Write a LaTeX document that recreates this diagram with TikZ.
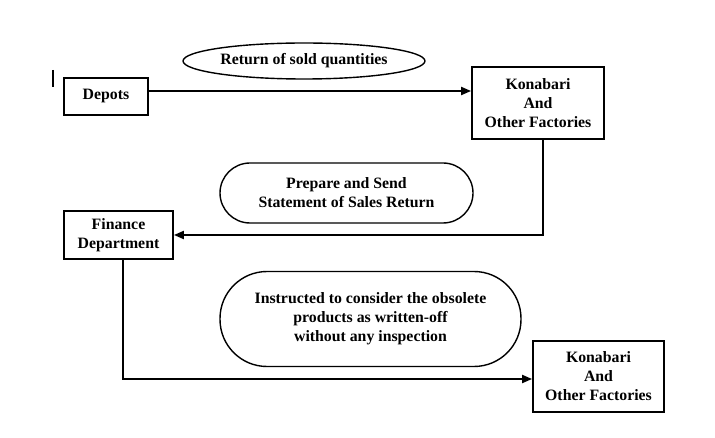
\documentclass[tikz,border=0pt]{standalone}
\usepackage{fontspec}
\setmainfont{Liberation Serif}
\usetikzlibrary{arrows.meta,shapes.geometric,calc}
\begin{document}
\begin{tikzpicture}[x=1pt,y=-1pt,
  every node/.style={font=\fontsize{15.8}{19}\selectfont\bfseries, align=center, inner sep=0pt},
  box/.style={draw, line width=1.8pt, rectangle},
  oval/.style={draw, line width=1.4pt, ellipse},
  pill/.style={draw, line width=1.4pt, rectangle},
  conn/.style={line width=2pt, -{Triangle[length=10pt,width=8pt]}}]
\useasboundingbox (0,0) rectangle (715,438);
\fill[white] (0,0) rectangle (715,438);
\draw[line width=2pt] (53,70) -- (53,87);
\node[box, minimum width=84pt, minimum height=37pt] (depots) at (106,96.5) {Depots};
\node[box, minimum width=132pt, minimum height=72pt] (fac1) at (538,103) {Konabari\\And\\Other Factories};
\node[box, minimum width=109pt, minimum height=48pt] (fin) at (118.5,235) {Finance\\Department};
\node[box, minimum width=131pt, minimum height=71pt] (fac2) at (598.5,376.5) {Konabari\\And\\Other Factories};
\node[oval, minimum width=242pt, minimum height=36pt] (lab1) at (304,61) {Return of sold quantities};
\node[pill, rounded corners=30pt, minimum width=253pt, minimum height=60pt] (lab2) at (346.5,193) {Prepare and Send\\Statement of Sales Return};
\node[pill, rounded corners=47pt, minimum width=301pt, minimum height=95pt] (lab3) at (370.5,319) {Instructed to consider the obsolete\\products as written-off\\without any inspection};
\draw[conn] ([yshift=5.5pt]depots.east) -- ([yshift=5.5pt]depots.east -| fac1.west);
\draw[conn] ([xshift=5pt]fac1.south) |- (fin.east);
\draw[conn] ([xshift=4.5pt]fin.south) |- ([yshift=-2.5pt]fac2.west);
\end{tikzpicture}
\end{document}
